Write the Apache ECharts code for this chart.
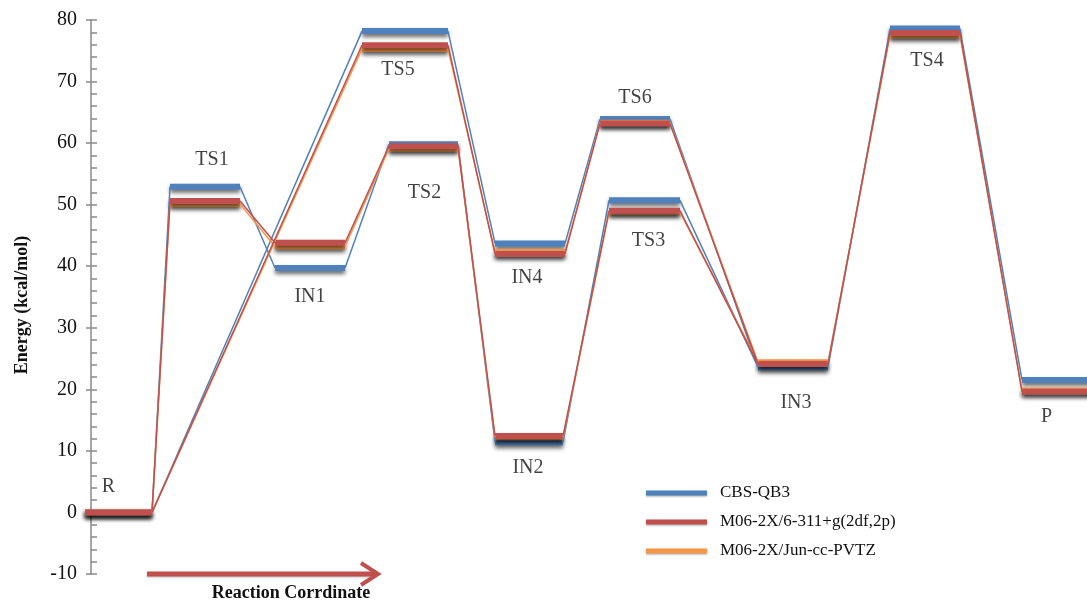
<!DOCTYPE html>
<html>
<head>
<meta charset="utf-8">
<script src="https://cdn.jsdelivr.net/npm/echarts@6/dist/echarts.min.js"></script>
<style>
  html, body { margin: 0; padding: 0; background: #fff; }
  #chart { width: 1087px; height: 601px; }
</style>
</head>
<body>
<div id="chart"></div>
<script>
// Stationary points along the reaction path
const levels = ['R', 'TS1', 'IN1', 'TS5', 'TS2', 'IN2', 'IN4', 'TS6', 'TS3', 'IN3', 'TS4', 'P'];

// Relative energies (kcal/mol) for each level of theory
const cbsQB3   = [0, 52.9, 39.7, 78.2, 59.8, 11.4, 43.7, 63.9, 50.7, 23.6, 78.6, 21.5];
const m06_6311 = [0, 50.6, 43.8, 75.9, 59.5, 12.4, 42.0, 63.2, 49.0, 24.1, 77.9, 19.6];
const m06_jun  = [0, 50.1, 43.2, 75.3, 59.1, 12.2, 42.3, 63.3, 48.8, 24.4, 77.5, 19.8];

const methodNames = ['CBS-QB3', 'M06-2X/6-311+g(2df,2p)', 'M06-2X/Jun-cc-PVTZ'];

// Energy axis range
const yMin = -10, yMax = 80, yStep = 10;

// Connections between stationary points
const paths = [
  ['R', 'TS1'], ['R', 'TS5'], ['TS1', 'IN1'], ['IN1', 'TS2'], ['TS2', 'IN2'],
  ['TS5', 'IN4'], ['IN4', 'TS6'], ['IN2', 'TS3'], ['TS6', 'IN3'], ['TS3', 'IN3'],
  ['IN3', 'TS4'], ['TS4', 'P']
];

// --- layout: extent of each level along the reaction coordinate (arbitrary units)
const levelSpan = {
  R: [-0.6, 6.1], TS1: [7.9, 14.9], IN1: [18.4, 25.4], TS5: [27.1, 35.7],
  TS2: [29.8, 36.7], IN2: [40.4, 47.2], IN4: [40.4, 47.4], TS6: [50.9, 57.9],
  TS3: [51.8, 58.9], IN3: [66.7, 73.7], TS4: [79.9, 86.9], P: [93.1, 100.6]
};
// label offsets (px) from the centre of each CBS-QB3 level
const labelOffset = {
  R: [-10, -26], TS1: [7, -27], IN1: [0, 29], TS5: [-7, 39], TS2: [1, 48],
  IN2: [-1, 25], IN4: [-3, 34], TS6: [0, -21], TS3: [4, 40], IN3: [3, 36],
  TS4: [2, 32], P: [-8, 37]
};

const colors = { 'CBS-QB3': '#4f81bd', 'M06-2X/6-311+g(2df,2p)': '#c0504d', 'M06-2X/Jun-cc-PVTZ': '#f79646' };
const energies = { 'CBS-QB3': cbsQB3, 'M06-2X/6-311+g(2df,2p)': m06_6311, 'M06-2X/Jun-cc-PVTZ': m06_jun };

const idx = n => levels.indexOf(n);
const SERIF = '"Liberation Serif", "DejaVu Serif", serif';

// thin line joining two stationary points: one small line series per connection
function connectorSeries(name) {
  const e = energies[name];
  return paths.map(([a, b]) => ({
    type: 'line', name, silent: true, clip: false, z: 3,
    color: colors[name],
    showSymbol: false, symbol: 'none',
    lineStyle: { color: colors[name], width: 1.5 },
    data: [[levelSpan[a][1], e[idx(a)]], [levelSpan[b][0], e[idx(b)]]]
  }));
}

// thick horizontal energy levels with a soft drop shadow; item = [x1, y1, x2, y2]
function levelSeries(name) {
  const e = energies[name];
  const rows = levels.map((n, i) => [levelSpan[n][0], e[i], levelSpan[n][1], e[i]]);
  return {
    type: 'custom', name, coordinateSystem: 'cartesian2d', silent: true,
    itemStyle: { color: colors[name] },
    encode: { x: [0, 2], y: [1, 3] },
    data: rows,
    renderItem: (params, api) => {
      const p1 = api.coord([api.value(0), api.value(1)]);
      const p2 = api.coord([api.value(2), api.value(3)]);
      return {
        type: 'line',
        shape: { x1: p1[0], y1: p1[1], x2: p2[0], y2: p2[1] },
        style: {
          stroke: colors[name], fill: null, lineWidth: 6, lineCap: 'butt',
          shadowColor: 'rgba(0,0,0,0.6)', shadowBlur: 4, shadowOffsetY: 3
        }
      };
    }
  };
}

// draw order: blue, orange, red
const drawOrder = ['CBS-QB3', 'M06-2X/Jun-cc-PVTZ', 'M06-2X/6-311+g(2df,2p)'];

const labelSeries = {
  type: 'scatter', name: 'labels', silent: true, symbolSize: 1,
  itemStyle: { color: 'rgba(0,0,0,0)' },
  label: {
    show: true, position: 'inside', formatter: p => p.name,
    fontFamily: SERIF, fontSize: 20, color: '#111'
  },
  data: levels.map((n, i) => ({
    name: n,
    value: [(levelSpan[n][0] + Math.min(levelSpan[n][1], 99.6)) / 2, cbsQB3[i]],
    label: { offset: labelOffset[n] }
  }))
};

const axisGray = '#8a8a8a';

const option = {
  animation: false,
  backgroundColor: '#fff',
  grid: { left: 91, right: 0, top: 20, bottom: 27 },
  xAxis: { type: 'value', min: 0, max: 99.6, show: false },
  yAxis: [
    {
      type: 'value', min: yMin, max: yMax, interval: yStep, position: 'left',
      axisLine: { show: true, lineStyle: { color: axisGray, width: 1.5 } },
      axisTick: { show: true, inside: true, length: 6, lineStyle: { color: axisGray, width: 1.5 } },
      minorTick: { show: true, splitNumber: 5, length: 6, lineStyle: { color: axisGray, width: 1.5 } },
      axisLabel: { fontFamily: SERIF, fontSize: 20, color: '#111', margin: 14 },
      splitLine: { show: false }
    },
    {
      // outer half of the major ticks
      type: 'value', min: yMin, max: yMax, interval: yStep, position: 'left',
      axisLine: { show: false },
      axisTick: { show: true, inside: false, length: 5, lineStyle: { color: axisGray, width: 1.5 } },
      axisLabel: { show: false },
      splitLine: { show: false }
    }
  ],
  legend: {
    orient: 'vertical', left: 641, top: 478,
    data: methodNames.map(n => ({ name: n, itemStyle: { color: colors[n] } })),
    icon: 'rect', itemWidth: 61, itemHeight: 5, itemGap: 9,
    itemStyle: { shadowColor: 'rgba(0,0,0,0.35)', shadowBlur: 2, shadowOffsetY: 1 },
    textStyle: { fontFamily: SERIF, fontSize: 17, color: '#111', lineHeight: 20, padding: [0, 0, 0, 8] },
    selectedMode: false
  },
  graphic: [
    // reaction-coordinate arrow
    {
      type: 'line', silent: true, z: 100,
      shape: { x1: 147, y1: 574, x2: 376, y2: 574 },
      style: { stroke: '#c0504d', lineWidth: 5, shadowColor: 'rgba(0,0,0,0.25)', shadowBlur: 2, shadowOffsetY: 1 }
    },
    {
      type: 'polyline', silent: true, z: 100,
      shape: { points: [[361, 563], [378, 574], [361, 585]] },
      style: { stroke: '#c0504d', lineWidth: 4, fill: null, lineJoin: 'miter' }
    },
    {
      type: 'text', silent: true, z: 100, x: 291, y: 593,
      style: {
        text: 'Reaction Corrdinate', fontFamily: SERIF, fontSize: 18, fontWeight: 'bold',
        fill: '#111', align: 'center', verticalAlign: 'middle'
      }
    },
    {
      type: 'text', silent: true, z: 101, x: 22, y: 305, rotation: Math.PI / 2,
      style: {
        text: 'Energy (kcal/mol)', fontFamily: SERIF, fontSize: 18, fontWeight: 'bold',
        fill: '#111', align: 'center', verticalAlign: 'middle'
      }
    }
  ],
  series: [
    ...drawOrder.flatMap(connectorSeries),
    ...drawOrder.map(levelSeries),
    labelSeries
  ]
};

const chart = echarts.init(document.getElementById('chart'), null, { renderer: 'canvas' });
chart.setOption(option);
</script>
</body>
</html>
